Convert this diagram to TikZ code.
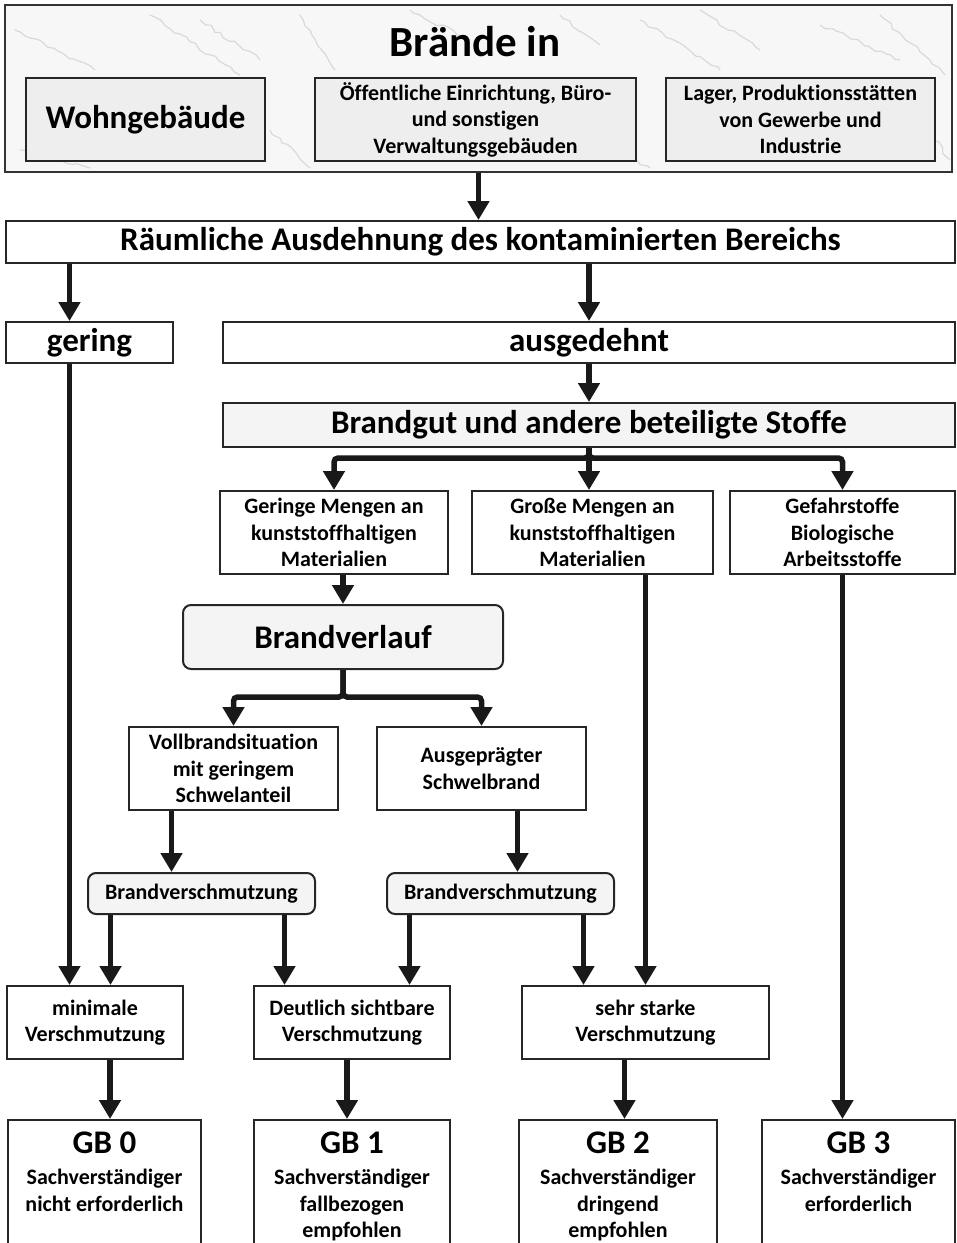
\documentclass[tikz,border=0pt]{standalone}
\usepackage{fontspec}
\setmainfont{Carlito}[Ligatures={NoCommon,NoRequired,NoContextual}, RawFeature={-liga;-clig;-dlig;-rlig}]
\usetikzlibrary{arrows.meta,decorations.pathmorphing}

\begin{document}
\begin{tikzpicture}[x=1pt,y=-1pt,
                    line width=2pt,
                    >={Triangle[width=21pt,length=19pt]}]
    \tikzstyle{box}=[draw=black!85,fill=white,line width=2pt,align=center,inner sep=1pt,
                     font=\fontsize{22}{26.5}\selectfont\bfseries]
    \tikzstyle{bigbox}=[box, font=\fontsize{33}{40}\selectfont\bfseries]
    \tikzstyle{greybox}=[box, fill=gray!13]
    \tikzstyle{noisebox}=[bigbox, fill=gray!9]
    \tikzstyle{softbox}=[box, fill=gray!9, rounded corners=8pt]
    \tikzstyle{gbtext}=[anchor=north, inner sep=0pt, align=center,
                        font=\fontsize{22}{26.5}\selectfont\bfseries]
    \tikzstyle{flow}=[->, line width=5.5pt, draw=black!90, rounded corners=4pt]
    \tikzstyle{vein}=[draw=gray!30, line width=1.2pt, line cap=round, decorate,
                      decoration={random steps, segment length=6pt, amplitude=2pt}]

    \useasboundingbox (0,0) rectangle (957,1243);
    \pgfmathsetseed{7}

    % building types
    \node[draw=black!80, fill=gray!6, minimum width=947, minimum height=167] (top) at (478.5,88.5) {};
    \begin{scope}
        \clip (7,7) rectangle (950,170);
        \foreach \xa/\ya/\xb/\yb in {15/30/95/70, 150/15/240/75, 200/20/260/60, 300/15/335/70,
                                     410/10/470/40, 560/15/600/45, 640/20/720/70, 700/10/760/50,
                                     820/25/900/60, 880/15/945/75, 270/130/310/168, 580/135/650/168,
                                     20/150/90/168, 920/120/950/160}
            \draw[vein] (\xa,\ya) -- (\xb,\yb);
    \end{scope}
    \node[font=\fontsize{43}{50}\selectfont\bfseries] (title) at (475,42) {Brände in};
    \node[greybox, font=\fontsize{33}{40}\selectfont\bfseries, minimum width=239, minimum height=83] (wohn) at (145.5,119.5) {Wohngebäude};
    \node[greybox, minimum width=321, minimum height=83] (oeff) at (475.5,119.5) {Öffentliche Einrichtung, Büro-\\und sonstigen\\Verwaltungsgebäuden};
    \node[greybox, minimum width=269, minimum height=83] (lager) at (800.5,119.5) {Lager, Produktionsstätten\\von Gewerbe und\\Industrie};

    % extent
    \node[bigbox, minimum width=949, minimum height=42] (raum) at (480.5,242) {Räumliche Ausdehnung des kontaminierten Bereichs};
    \node[bigbox, minimum width=167, minimum height=41] (gering) at (89.5,342.5) {gering};
    \node[bigbox, minimum width=732, minimum height=41] (ausg) at (589,342.5) {ausgedehnt};
    \node[noisebox, minimum width=732, minimum height=44] (brandgut) at (589,425) {Brandgut und andere beteiligte Stoffe};

    % materials
    \node[box, minimum width=228, minimum height=83] (geringe) at (334,532.5) {Geringe Mengen an\\kunststoffhaltigen\\Materialien};
    \node[box, minimum width=241, minimum height=83] (grosse) at (592.5,532.5) {Große Mengen an\\kunststoffhaltigen\\Materialien};
    \node[box, minimum width=225, minimum height=83] (gefahr) at (842.5,532.5) {Gefahrstoffe\\Biologische\\Arbeitsstoffe};

    % fire course
    \node[softbox, font=\fontsize{33}{40}\selectfont\bfseries, minimum width=320, minimum height=64] (verlauf) at (343,637) {Brandverlauf};
    \node[box, minimum width=209, minimum height=83] (voll) at (233.5,768.5) {Vollbrandsituation\\mit geringem\\Schwelanteil};
    \node[box, minimum width=209, minimum height=83] (auspr) at (481.5,768.5) {Ausgeprägter\\Schwelbrand};
    \node[softbox, minimum width=227, minimum height=41] (bv1) at (201.5,893.5) {Brandverschmutzung};
    \node[softbox, minimum width=227, minimum height=41] (bv2) at (500.5,893.5) {Brandverschmutzung};

    % soiling
    \node[box, minimum width=176, minimum height=73] (minimal) at (95,1022.5) {minimale\\Verschmutzung};
    \node[box, minimum width=196, minimum height=73] (deutlich) at (352,1022.5) {Deutlich sichtbare\\Verschmutzung};
    \node[box, minimum width=247, minimum height=73] (stark) at (645.5,1022.5) {sehr starke\\Verschmutzung};

    % hazard classes
    \node[box, minimum width=193, minimum height=130] (gb0) at (104.5,1185) {};
    \node[box, minimum width=196, minimum height=130] (gb1) at (352,1185) {};
    \node[box, minimum width=198, minimum height=130] (gb2) at (618,1185) {};
    \node[box, minimum width=193, minimum height=130] (gb3) at (858.5,1185) {};
    \node[gbtext] (gb0txt) at ([yshift=-12pt]gb0.north) {{\fontsize{33}{33}\selectfont GB 0}\\[4.5pt]Sachverständiger\\nicht erforderlich};
    \node[gbtext] (gb1txt) at ([yshift=-12pt]gb1.north) {{\fontsize{33}{33}\selectfont GB 1}\\[4.5pt]Sachverständiger\\fallbezogen\\empfohlen};
    \node[gbtext] (gb2txt) at ([yshift=-12pt]gb2.north) {{\fontsize{33}{33}\selectfont GB 2}\\[4.5pt]Sachverständiger\\dringend\\empfohlen};
    \node[gbtext] (gb3txt) at ([yshift=-12pt]gb3.north) {{\fontsize{33}{33}\selectfont GB 3}\\[4.5pt]Sachverständiger\\erforderlich};

    % arrows
    \draw[flow] (top.south) -- (top.south |- raum.north);
    \draw[flow] ([xshift=-20pt]gering.north |- raum.south) -- ([xshift=-20pt]gering.north);
    \draw[flow] (ausg.north |- raum.south) -- (ausg.north);
    \draw[flow] (ausg) -- (brandgut);
    \draw[flow] (brandgut.south) -- ++(0,10) -| (geringe.north);
    \draw[flow] (brandgut.south) -- (brandgut.south |- grosse.north);
    \draw[flow] (brandgut.south) -- ++(0,10) -| (gefahr.north);
    \draw[flow] (verlauf.north |- geringe.south) -- (verlauf.north);
    \draw[flow] (verlauf.south) -- ++(0,27) -| (voll.north);
    \draw[flow] (verlauf.south) -- ++(0,27) -| (auspr.north);
    \draw[flow] ([xshift=-30pt]bv1.north |- voll.south) -- ([xshift=-30pt]bv1.north);
    \draw[flow] ([xshift=17pt]bv2.north |- auspr.south) -- ([xshift=17pt]bv2.north);
    \draw[flow] ([xshift=-20pt]gering.south) -- ([xshift=-20pt]gering.south |- minimal.north);
    \draw[flow] ([xshift=-91pt]bv1.south) -- ([xshift=-91pt]bv1.south |- minimal.north);
    \draw[flow] ([xshift=83pt]bv1.south) -- ([xshift=83pt]bv1.south |- deutlich.north);
    \draw[flow] ([xshift=-91pt]bv2.south) -- ([xshift=-91pt]bv2.south |- deutlich.north);
    \draw[flow] ([xshift=83pt]bv2.south) -- ([xshift=83pt]bv2.south |- stark.north);
    \draw[flow] ([xshift=53pt]grosse.south) -- ([xshift=53pt]grosse.south |- stark.north);
    \draw[flow] (gefahr.south) -- (gefahr.south |- gb3.north);
    \draw[flow] ([xshift=15pt]minimal.south) -- ([xshift=15pt]minimal.south |- gb0.north);
    \draw[flow] ([xshift=-5pt]deutlich.south) -- ([xshift=-5pt]deutlich.south |- gb1.north);
    \draw[flow] ([xshift=-21pt]stark.south) -- ([xshift=-21pt]stark.south |- gb2.north);
\end{tikzpicture}
\end{document}
